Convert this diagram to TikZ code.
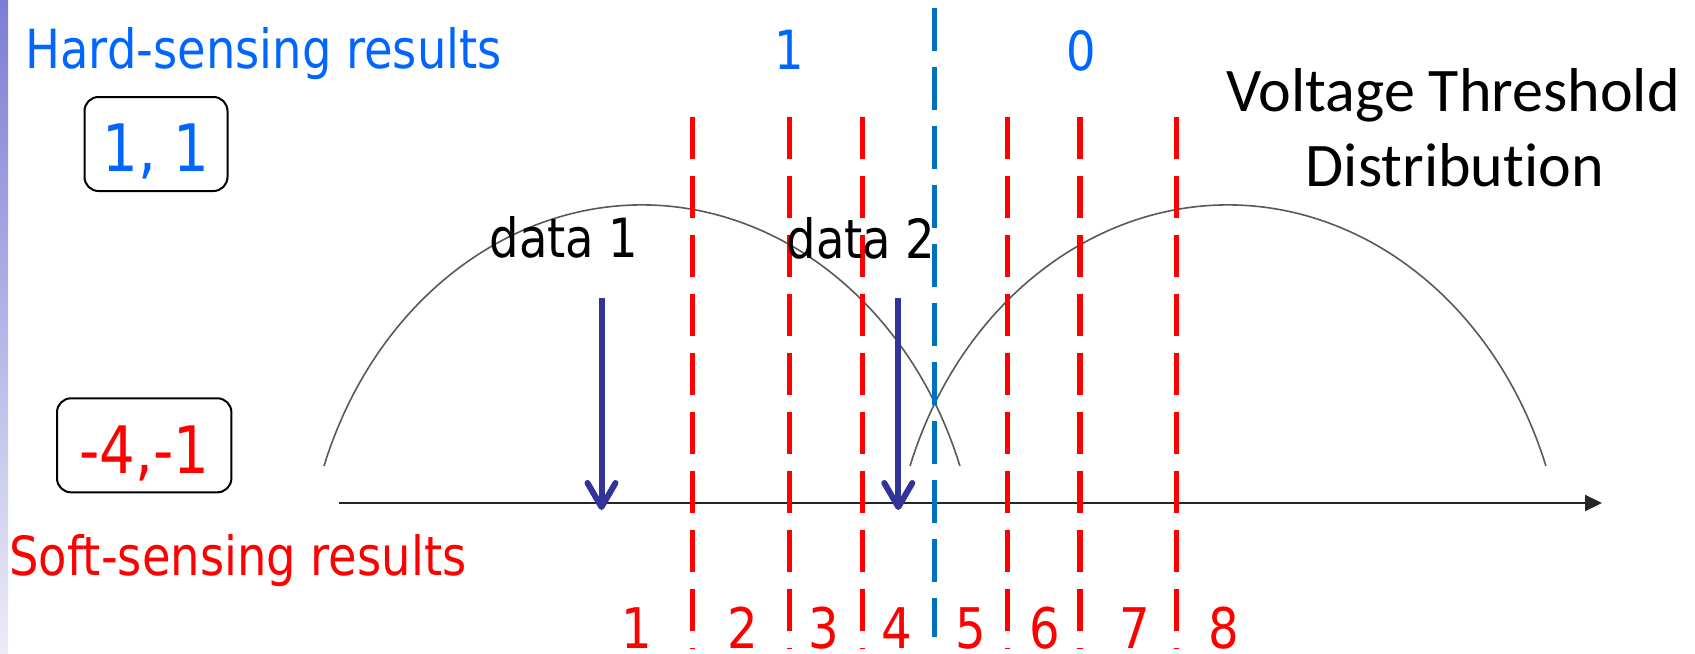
\documentclass[tikz,border=0pt]{standalone}
\usepackage{fontspec}
\newfontfamily\tah[FakeStretch=0.86]{DejaVu Sans}
\newfontfamily\calfont[Ligatures=NoCommon]{Carlito}
\usetikzlibrary{arrows.meta}
\definecolor{hardblue}{HTML}{0066FF}
\definecolor{dashblue}{HTML}{0070C0}
\definecolor{arrowcol}{HTML}{333399}
\definecolor{softred}{HTML}{FF0000}
\definecolor{bartop}{RGB}{125,125,212}
\definecolor{barbot}{RGB}{236,236,248}
\begin{document}
\begin{tikzpicture}[x=0.5pt,y=-0.5pt,
  lbl/.style={inner sep=0pt, anchor=base, font=\tah\fontsize{27pt}{32pt}\selectfont},
  numlbl/.style={lbl, text=softred, font=\tah\fontsize{28pt}{32pt}\selectfont},
  resbox/.style={draw=black, line width=1pt, rounded corners=7pt, inner sep=0pt,
    font=\tah\fontsize{32.7pt}{36pt}\selectfont, text height=27.8pt, text depth=0pt},
  vt/.style={inner sep=0pt, anchor=base, font=\calfont\fontsize{31pt}{37.5pt}\selectfont},
  reddash/.style={draw=softred, line width=2.75pt, dash pattern=on 21.3pt off 8.2pt},
  bluedash/.style={draw=dashblue, line width=2.75pt, dash pattern=on 21.3pt off 8.2pt},
  hump/.style={draw=black!65, line width=0.8pt},
  axisline/.style={draw=black!85, line width=1pt, -{Triangle[length=8.5pt,width=8pt]}},
  dataarrow/.style={draw=arrowcol, line width=3pt, -{Straight Barb[length=12pt,width=14pt,round]}}
]
\useasboundingbox (0,0) rectangle (1695,653);
\shade[top color=bartop, bottom color=barbot] (0,0) rectangle (8,653);

% distribution humps
\draw[hump] (324,466) arc[start angle=-160.17, end angle=-19.83, x radius=338, y radius=395];
\draw[hump] (910,466) arc[start angle=-160.17, end angle=-19.83, x radius=338, y radius=395];

% voltage axis
\coordinate (axs) at (339.3,503);
\coordinate (axe) at (1602,503);
\draw[axisline] (axs) -- (axe);

% read reference lines
\foreach \x in {692.7,789.3,862.3,1007.3,1080,1176.7}
  \draw[reddash] (\x,116.7) -- (\x,649);
\draw[bluedash] (934.7,8.3) -- (934.7,637);

% labels
\node[lbl, anchor=base west, text=hardblue] (hard) at (25,68) {Hard-sensing results};
\node[lbl, text=hardblue] (h1) at (789,69) {1};
\node[lbl, text=hardblue] (h0) at (1081,70) {0};
\node[lbl, anchor=base west, text=softred] (soft) at (9,575) {Soft-sensing results};
\node[lbl] (d1) at (564,257) {data 1};
\node[lbl] (d2) at (861,258) {data 2};
\foreach \n/\x in {1/636.7,2/743.3,3/824,4/896.7,5/970.8,6/1045,7/1135,8/1223.3}
  \node[numlbl] (s\n) at (\x,648) {\n};

\node[resbox, text=hardblue, minimum width=71.5pt, minimum height=47pt] (hb) at (156,144) {1, 1};
\node[resbox, text=softred, minimum width=87.2pt, minimum height=47pt] (sb) at (144.2,445.3) {-4,-1};

\node[vt] (vt1) at (1453,111.7) {Voltage Threshold};
\node[vt] (vt2) at (1454.8,186.7) {Distribution};

% data arrows
\coordinate (a1s) at (601.5,298.3);
\coordinate (a1e) at (601.5,510);
\coordinate (a2s) at (898.3,298.3);
\coordinate (a2e) at (898.3,510);
\draw[dataarrow] (a1s) -- (a1e);
\draw[dataarrow] (a2s) -- (a2e);
\end{tikzpicture}
\end{document}
